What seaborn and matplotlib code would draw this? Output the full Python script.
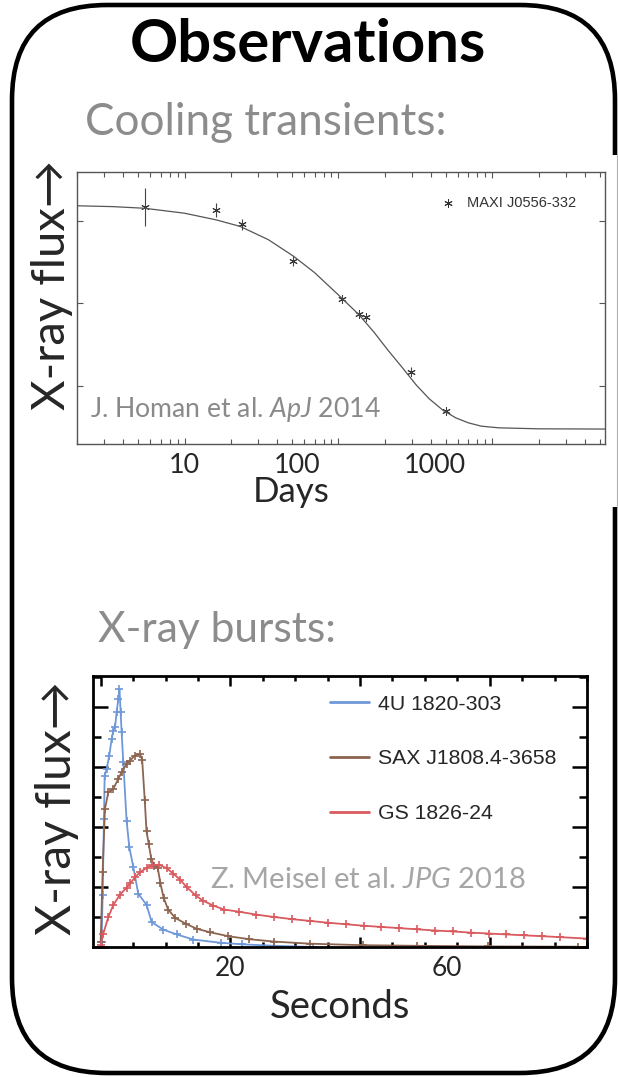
import numpy as np
import matplotlib
matplotlib.use('Agg')
import matplotlib.pyplot as plt
from matplotlib.patches import FancyBboxPatch, Rectangle
from matplotlib.lines import Line2D
from matplotlib.ticker import LogLocator, MultipleLocator, NullLocator
import seaborn as sns

# ---- cooling transient, MAXI J0556-332 ----
cool_days = [5.5, 16, 23.6, 51, 105, 136, 151, 295, 500]
cool_flux = [3.16, 3.13, 2.955, 2.51, 2.05, 1.87, 1.83, 1.17, 0.69]
cool_err = [0.23, 0.08, 0.065, 0.056, 0.046, 0.04, 0.04, 0.056, 0.03]

fit_days = [2.0, 3.4, 5.5, 10, 16, 23, 35, 51, 70, 100, 136, 170, 210, 260,
            320, 390, 480, 580, 700, 850, 1100, 2000, 5400]
fit_flux = [3.18, 3.17, 3.15, 3.09, 3.01, 2.93, 2.77, 2.57, 2.37, 2.10, 1.86,
            1.65, 1.43, 1.22, 1.01, 0.84, 0.70, 0.61, 0.55, 0.51, 0.49, 0.478, 0.475]

day_ticks = [10, 53.5, 425]
day_labels = ['10', '100', '1000']

# ---- X-ray bursts (normalised flux vs seconds) ----
blue_t = [0.15, 0.30, 0.51, 0.61, 0.92, 1.33, 1.69, 1.95, 2.21, 2.46, 2.72, 2.90,
          3.08, 3.23, 3.49, 4.0, 4.42, 5.03, 5.80, 7.09, 7.86, 9.66, 11.71, 14.28,
          18.5, 21.8, 26.8, 32.8]
blue_f = [0.017, 0.172, 0.428, 0.572, 0.594, 0.639, 0.694, 0.722, 0.733, 0.783,
          0.828, 0.862, 0.783, 0.717, 0.617, 0.42, 0.333, 0.267, 0.178, 0.140,
          0.083, 0.058, 0.042, 0.025, 0.014, 0.009, 0.004, 0.0]

brown_t = [0.0, 0.30, 0.66, 1.18, 1.95, 2.72, 3.23, 4.0, 4.52, 5.29, 6.06, 6.40,
           6.80, 7.07, 7.40, 7.80, 8.3, 8.8, 9.2, 9.7, 10.4, 11.5, 13.1, 14.8,
           16.9, 19.7, 22.9, 26.8, 32.3, 40.5, 48.8, 59.8, 73.6]
brown_f = [0.017, 0.25, 0.461, 0.517, 0.528, 0.561, 0.583, 0.611, 0.622, 0.639,
           0.644, 0.625, 0.489, 0.386, 0.345, 0.295, 0.270, 0.264, 0.214, 0.165,
           0.125, 0.097, 0.078, 0.061, 0.049, 0.036, 0.026, 0.018, 0.011, 0.006,
           0.004, 0.002, 0.001]

red_t = [0.0, 0.41, 1.18, 1.95, 2.98, 4.0, 4.52, 5.29, 6.06, 7.09, 7.86, 9.04,
         10.17, 11.2, 12.23, 13.26, 14.65, 15.75, 17.38, 19.06, 21.26, 24.02,
         26.77, 29.52, 32.28, 35.03, 37.78, 40.54, 43.29, 46.05, 48.8, 51.55,
         54.3, 57.06, 59.81, 62.57, 65.32, 68.07, 70.83, 74.96]
red_f = [0.006, 0.045, 0.10, 0.14, 0.175, 0.198, 0.212, 0.232, 0.25, 0.264,
         0.272, 0.274, 0.263, 0.245, 0.225, 0.200, 0.172, 0.155, 0.138, 0.125,
         0.118, 0.108, 0.100, 0.093, 0.087, 0.081, 0.076, 0.071, 0.067, 0.063,
         0.059, 0.055, 0.052, 0.048, 0.045, 0.042, 0.039, 0.036, 0.033, 0.028]

sec_ticks = [20, 53.4]
sec_labels = ['20', '60']

BLUE, BROWN, RED = '#6f98d9', '#8c6450', '#d95a5f'

sns.set_theme(style='white')
plt.rcParams['font.family'] = ['Lato', 'DejaVu Sans']
plt.rcParams['mathtext.fontset'] = 'custom'
plt.rcParams['mathtext.rm'] = 'Lato'
plt.rcParams['mathtext.it'] = 'Lato:italic'

W, H = 618, 1077
fig = plt.figure(figsize=(W / 100, H / 100), dpi=100)
renderer = fig.canvas.get_renderer()


def box(l, t, r, b):
    return [l / W, 1 - b / H, (r - l) / W, (b - t) / H]


def fit(txt, target, vertical=False):
    # scale the font so the text spans `target` pixels
    bb = txt.get_window_extent(renderer=renderer)
    cur = bb.height if vertical else bb.width
    txt.set_fontsize(txt.get_fontsize() * target / cur)


# background "slide" in pixel coordinates
bg = fig.add_axes([0, 0, 1, 1], zorder=-1)
bg.set_xlim(0, W)
bg.set_ylim(H, 0)
bg.axis('off')
bg.add_patch(FancyBboxPatch((12, 5), 603, 1068, boxstyle='round,pad=0,rounding_size=95',
                            fill=False, lw=3.3, ec='black'))
bg.add_patch(Rectangle((607, 155), 12, 352, fc='white', ec='none', zorder=3))
bg.plot([617.3, 617.3], [155, 507], color='#b0b0b0', lw=0.8, zorder=4)

t = bg.text(308, 61.7, 'Observations', ha='center', va='baseline', fontweight='bold',
            color='black', fontsize=40)
fit(t, 356)
t = bg.text(85, 135, 'Cooling transients:', ha='left', va='baseline', color='#8c8c8c',
            fontsize=26)
fit(t, 360)
t = bg.text(98.3, 641.7, 'X-ray bursts:', ha='left', va='baseline', color='#8c8c8c',
            fontsize=26)
fit(t, 238)

# ---------------- cooling transient panel ----------------
ax1 = fig.add_axes(box(77, 171.7, 605, 444), zorder=1)
ax1.set_xscale('log')
sns.lineplot(x=fit_days, y=fit_flux, ax=ax1, color='#555555', lw=0.9,
             estimator=None, sort=False)
ax1.errorbar(cool_days, cool_flux, yerr=cool_err, fmt='none', ecolor='#444444',
             elinewidth=0.8)
sns.scatterplot(x=cool_days, y=cool_flux, ax=ax1, marker=(6, 2, 0), s=30,
                color='#333333', edgecolor='#333333', linewidth=0.7,
                label='MAXI J0556-332')
ax1.set_xlim(2, 5400)
ax1.set_ylim(0.294, 3.593)
ax1.set_yticks([1, 2, 3])
ax1.xaxis.set_minor_locator(LogLocator(base=10, subs=np.arange(2, 10), numticks=20))
ax1.tick_params(which='both', direction='in', top=True, right=True, bottom=True,
                left=True, labelbottom=False, labelleft=False, color='#555555',
                width=0.8)
ax1.tick_params(which='major', length=4)
ax1.tick_params(which='minor', length=3.5)
for s in ax1.spines.values():
    s.set_color('#555555')
    s.set_linewidth(1.0)
leg = ax1.legend(loc='center left', bbox_to_anchor=(0.688, 0.885), frameon=False,
                 handlelength=1, handletextpad=0.8, borderpad=0, borderaxespad=0,
                 prop={'family': 'Liberation Sans', 'size': 10.5})
for txt in leg.get_texts():
    txt.set_color('#333333')

sec1 = ax1.secondary_xaxis('bottom')
sec1.set_xticks(day_ticks, labels=day_labels)
sec1.xaxis.set_minor_locator(NullLocator())
sec1.tick_params(length=0, pad=6.5, labelsize=19.4)
sec1.spines['bottom'].set_visible(False)

ax1.set_xlabel('Days', fontsize=26)
ax1.xaxis.label.set_va('baseline')
ax1.xaxis.set_label_coords(291.3, 501.7, transform=bg.transData)
fit(ax1.xaxis.label, 77)
ax1.set_ylabel('X-ray flux→', fontsize=24)
ax1.yaxis.label.set_va('center')
ax1.yaxis.set_label_coords(52, 285, transform=bg.transData)
fit(ax1.yaxis.label, 250, vertical=True)

t = ax1.text(90.4, 416.7, r'J. Homan et al. $\mathit{ApJ}$ 2014', transform=bg.transData,
             ha='left', va='baseline', color='#8a8a8a', fontsize=18)
fit(t, 291)

# ---------------- X-ray burst panel ----------------
ax2 = fig.add_axes(box(92.5, 675.5, 587, 947), zorder=1)
series = [(blue_t, blue_f, BLUE, '4U 1820-303'),
          (brown_t, brown_f, BROWN, 'SAX J1808.4-3658'),
          (red_t, red_f, RED, 'GS 1826-24')]
for tt, ff, c, name in series:
    sns.lineplot(x=tt, y=ff, ax=ax2, color=c, lw=1.3, marker='+', markersize=6,
                 markeredgewidth=1.2, markeredgecolor=c, estimator=None, sort=False)
ax2.set_xlim(-1.26, 75.0)
ax2.set_ylim(0, 0.906)
ax2.xaxis.set_major_locator(MultipleLocator(20))
ax2.xaxis.set_minor_locator(MultipleLocator(5))
ax2.yaxis.set_major_locator(MultipleLocator(0.2))
ax2.yaxis.set_minor_locator(MultipleLocator(0.1))
ax2.tick_params(which='both', direction='in', top=True, right=True, bottom=True,
                left=True, labelbottom=False, labelleft=False, color='black',
                width=1.8)
ax2.tick_params(axis='x', which='major', length=7)
ax2.tick_params(axis='x', which='minor', length=3.5)
ax2.tick_params(axis='y', which='major', length=10.5)
ax2.tick_params(axis='y', which='minor', length=5.5)
for s in ax2.spines.values():
    s.set_color('black')
    s.set_linewidth(2.0)
handles = [Line2D([], [], color=c, lw=2) for _, _, c, _ in series]
ax2.legend(handles, [n for *_, n in series], loc='upper left',
           bbox_to_anchor=(0.4795, 0.9297), frameon=False, handlelength=1.85,
           handletextpad=0.42, labelspacing=1.68, borderpad=0, borderaxespad=0,
           prop={'family': 'Liberation Sans', 'size': 15.3})

sec2 = ax2.secondary_xaxis('bottom')
sec2.set_xticks(sec_ticks, labels=sec_labels)
sec2.xaxis.set_minor_locator(NullLocator())
sec2.tick_params(length=0, pad=6.5, labelsize=19)
sec2.spines['bottom'].set_visible(False)

ax2.set_xlabel('Seconds', fontsize=26)
ax2.xaxis.label.set_va('baseline')
ax2.xaxis.set_label_coords(339.6, 1018, transform=bg.transData)
fit(ax2.xaxis.label, 140)
ax2.set_ylabel('X-ray flux→', fontsize=24)
ax2.yaxis.label.set_va('center')
ax2.yaxis.set_label_coords(57, 808, transform=bg.transData)
fit(ax2.yaxis.label, 255, vertical=True)

t = ax2.text(210, 888.3, r'Z. Meisel et al. $\mathit{JPG}$ 2018', transform=bg.transData,
             ha='left', va='baseline', color='#a6a6a6', fontsize=18)
fit(t, 316)

fig.savefig('out.png', dpi=100)
